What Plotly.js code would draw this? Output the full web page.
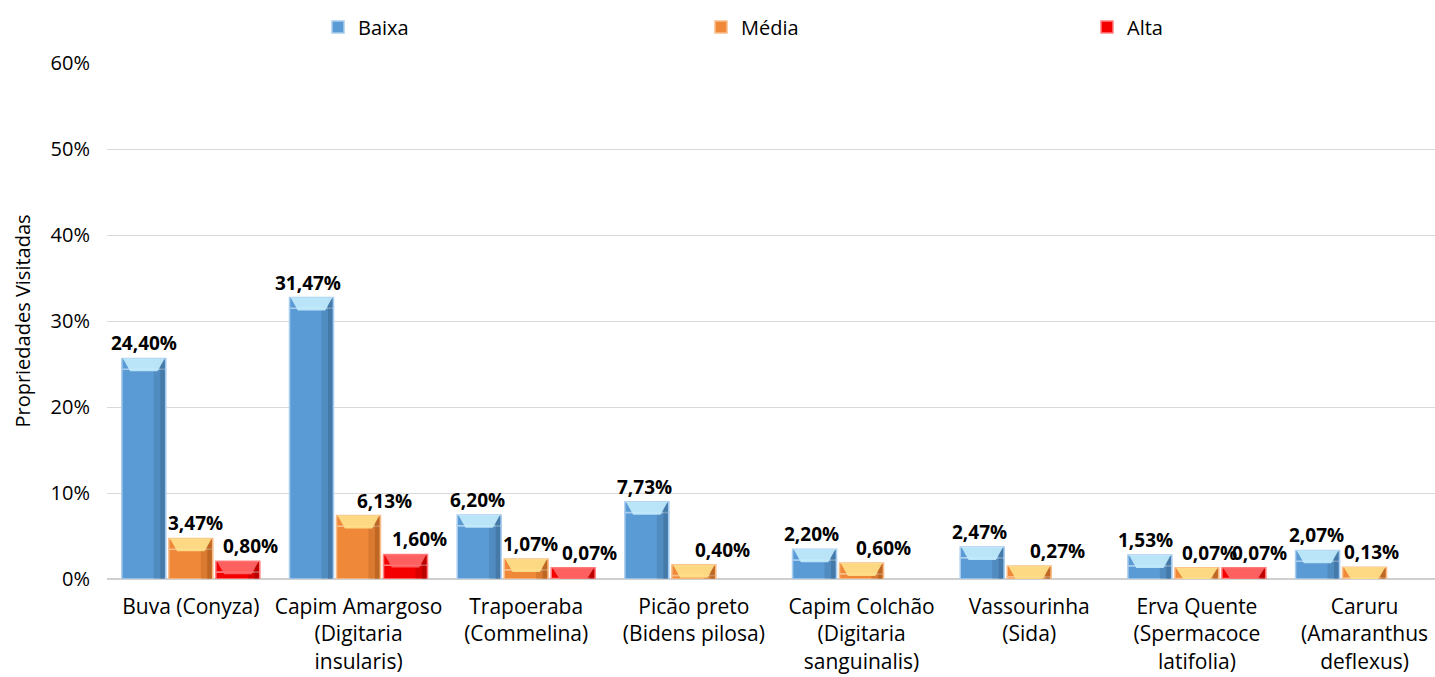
<!DOCTYPE html>
<html>
<head>
<meta charset="utf-8">
<script src="https://cdn.plot.ly/plotly-3.0.1.min.js"></script>
<style>html,body{margin:0;padding:0;background:#fff;}#chart{width:1435px;height:677px;}</style>
</head>
<body>
<div id="chart"></div>
<script>
const categories = [
  "Buva (Conyza)",
  "Capim Amargoso<br>(Digitaria<br>insularis)",
  "Trapoeraba<br>(Commelina)",
  "Picão preto<br>(Bidens pilosa)",
  "Capim Colchão<br>(Digitaria<br>sanguinalis)",
  "Vassourinha<br>(Sida)",
  "Erva Quente<br>(Spermacoce<br>latifolia)",
  "Caruru<br>(Amaranthus<br>deflexus)"
];
const seriesNames = ["Baixa", "Média", "Alta"];
const baixa = [24.40, 31.47, 6.20, 7.73, 2.20, 2.47, 1.53, 2.07];
const media = [3.47, 6.13, 1.07, 0.40, 0.60, 0.27, 0.07, 0.13];
const alta  = [0.80, 1.60, 0.07, null, null, null, 0.07, null];
const yTicks = [0, 10, 20, 30, 40, 50, 60];

// style: horizontal nudges (px) of the value labels, as placed in the original chart
const labelShiftBaixa = [0, -4, -2, -2, -3, -3, -4, -1];
const labelShiftMedia = [5, 26, 4, 29, 22, 28, 13, 7];
const labelShiftAlta  = [13, 14, 16, 0, 0, 0, 16, 0];

const FONT = "'Open Sans', 'DejaVu Sans', sans-serif";
const styles = [
  {fill: "#5B9BD5", edge: "#A9CDEE", light: "#C4ECFC", dark: "#1F3F5F"},
  {fill: "#F0883A", edge: "#F7BE8C", light: "#FFE28C", dark: "#6B3000"},
  {fill: "#F50000", edge: "#FF8080", light: "#FF6A6A", dark: "#5A0000"}
];
const seriesData = [baixa, media, alta];
const labelShifts = [labelShiftBaixa, labelShiftMedia, labelShiftAlta];
const legendIds = ["legend", "legend2", "legend3"];
const BARGAP = 0.159, GROUPGAP = 0.064;
const CAP = 1.25;   // height of the bevelled top face drawn on each column (3D look)

const traces = seriesData.map((vals, i) => ({
  type: "bar",
  name: seriesNames[i],
  legend: legendIds[i],
  x: categories,
  y: vals,
  marker: {color: styles[i].fill, line: {color: styles[i].edge, width: 1.5}},
  hoverinfo: "skip"
}));

const shapes = [];
const annotations = [];
const slot = (1 - BARGAP) / 3;
const half = slot * (1 - GROUPGAP) / 2;
seriesData.forEach((vals, k) => {
  vals.forEach((v, i) => {
    if (v == null) return;
    const c = i + (k - 1) * slot;
    const x0 = c - half, x1 = c + half;
    const top = v + CAP;
    // bevel cap continuing the column
    shapes.push({type: "rect", xref: "x", yref: "y", x0: x0, x1: x1, y0: v, y1: top,
      fillcolor: styles[k].fill, line: {color: styles[k].edge, width: 1.5}, layer: "above"});
    // right-side darker shading
    shapes.push({type: "rect", xref: "x", yref: "y", x0: x1 - half * 0.55, x1: x1 - half * 0.05, y0: 0, y1: top - 0.1,
      fillcolor: styles[k].dark, opacity: 0.16, line: {width: 0}, layer: "above"});
    shapes.push({type: "rect", xref: "x", yref: "y", x0: x1 - half * 0.25, x1: x1 - half * 0.05, y0: 0, y1: top - 0.1,
      fillcolor: styles[k].dark, opacity: 0.25, line: {width: 0}, layer: "above"});
    // light top facet
    const bottom = Math.max(0, top - 1.5);
    const inset = half * 0.38;
    shapes.push({type: "path", xref: "x", yref: "y",
      path: `M ${x0 + half * 0.05},${top} L ${x1 - half * 0.05},${top} L ${x1 - inset},${bottom} L ${x0 + inset},${bottom} Z`,
      fillcolor: styles[k].light, opacity: 0.9, line: {width: 0}, layer: "above"});
    // value label
    annotations.push({xref: "x", yref: "y", x: c, y: top, yanchor: "bottom", xanchor: "center",
      yshift: 0, xshift: labelShifts[k][i],
      text: "<b>" + v.toFixed(2).replace(".", ",") + "%</b>", showarrow: false,
      font: {family: FONT, size: 19, color: "#000"}});
  });
});

const legendCommon = {orientation: "h", xref: "container", yref: "container", xanchor: "left",
  yanchor: "middle", y: 0.96, font: {family: FONT, size: 20, color: "#000"}, itemwidth: 30,
  bgcolor: "rgba(0,0,0,0)"};

const layout = {
  width: 1435, height: 677,
  margin: {l: 107, r: 0, t: 63, b: 98, autoexpand: false},
  paper_bgcolor: "#fff", plot_bgcolor: "#fff",
  font: {family: FONT, size: 20, color: "#000"},
  separators: ",.",
  barmode: "group",
  bargap: BARGAP,
  bargroupgap: GROUPGAP,
  showlegend: true,
  legend:  Object.assign({}, legendCommon, {x: 318 / 1435}),
  legend2: Object.assign({}, legendCommon, {x: 701 / 1435}),
  legend3: Object.assign({}, legendCommon, {x: 1087 / 1435}),
  shapes: shapes,
  annotations: annotations,
  xaxis: {
    type: "category", range: [-0.5, 7.42],
    showgrid: false, zeroline: false, showline: false,
    ticks: "", tickfont: {family: FONT, size: 21, color: "#000"},
    ticklabelstandoff: 13
  },
  yaxis: {
    range: [0, 60], tickvals: yTicks, ticktext: yTicks.map(t => t + "%"),
    showgrid: true, gridcolor: "#D9D9D9", gridwidth: 1,
    zeroline: true, zerolinecolor: "#CFCFCF", zerolinewidth: 2,
    showline: false, ticks: "",
    tickfont: {family: FONT, size: 20, color: "#000"},
    ticklabelstandoff: 16,
    title: {text: "Propriedades Visitadas", font: {family: FONT, size: 20, color: "#000"}, standoff: 14}
  }
};

Plotly.newPlot("chart", traces, layout, {displayModeBar: false, staticPlot: true});
</script>
</body>
</html>
